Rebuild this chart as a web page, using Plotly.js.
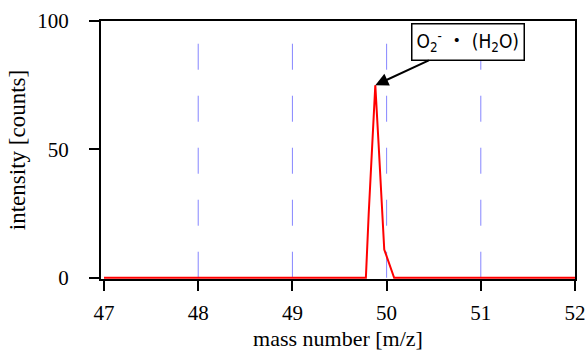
<!DOCTYPE html>
<html>
<head>
<meta charset="utf-8">
<script src="https://cdn.plot.ly/plotly-3.0.1.min.js"></script>
<style>html,body{margin:0;padding:0;background:#fff;}#chart{width:588px;height:352px;}</style>
</head>
<body>
<div id="chart"></div>
<script>
// data
const massNumber = [47, 49.78, 49.81, 49.845, 49.88, 49.915, 49.95, 49.975, 50.08, 52];
const intensity  = [0, 0, 25, 50, 75, 52, 28, 11, 0, 0];
const xTicks = [47, 48, 49, 50, 51, 52];
const yTicks = [0, 50, 100];
const gridX = [48, 49, 50, 51];
const peakLabel = 'O<sub>2</sub><sup>-</sup> ・ (H<sub>2</sub>O)';
const peakX = 49.88, peakY = 75;

const serif = 'Liberation Serif, Times New Roman, serif';

const shapes = gridX.map(v => ({
  type: 'line', xref: 'x', yref: 'y', x0: v, x1: v, y0: 0, y1: 100,
  line: {color: '#8585ff', width: 1, dash: '26px,26px'}, layer: 'below'
}));

const trace = {
  x: massNumber, y: intensity, type: 'scatter', mode: 'lines',
  line: {color: '#ff0000', width: 2}, hoverinfo: 'skip'
};

const layout = {
  width: 588, height: 352,
  margin: {l: 101, r: 13, t: 21, b: 73},
  paper_bgcolor: '#fff', plot_bgcolor: '#fff',
  showlegend: false,
  font: {family: serif, size: 21, color: '#000'},
  xaxis: {
    range: [46.968, 52], tickvals: xTicks, ticktext: xTicks.map(String),
    showgrid: false, zeroline: false,
    showline: true, mirror: true, linecolor: '#000', linewidth: 2,
    ticks: 'outside', ticklen: 10, tickwidth: 2, tickcolor: '#000',
    ticklabelstandoff: 4,
    tickfont: {family: serif, size: 21},
    title: {text: 'mass number [m/z]', font: {family: serif, size: 22}, standoff: 6}
  },
  yaxis: {
    range: [-0.5, 100], tickvals: yTicks, ticktext: yTicks.map(String),
    showgrid: false, zeroline: false,
    showline: true, mirror: true, linecolor: '#000', linewidth: 2,
    ticks: 'outside', ticklen: 10, tickwidth: 2, tickcolor: '#000',
    ticklabelstandoff: 16,
    tickfont: {family: serif, size: 21},
    title: {text: 'intensity [counts]', font: {family: serif, size: 23}, standoff: 5}
  },
  shapes: shapes,
  annotations: [{
    x: peakX, y: peakY, xref: 'x', yref: 'y',
    text: peakLabel, showarrow: true,
    ax: 93, ay: -43,
    arrowhead: 2, arrowsize: 1.3, arrowwidth: 2, arrowcolor: '#000',
    bordercolor: '#000', borderwidth: 1.5, borderpad: 4, bgcolor: '#fff',
    font: {family: 'Liberation Sans Narrow, DejaVu Sans Condensed, Noto Sans CJK JP, sans-serif', size: 19, color: '#000'}
  }]
};

Plotly.newPlot('chart', [trace], layout, {displayModeBar: false, staticPlot: true});
</script>
</body>
</html>
